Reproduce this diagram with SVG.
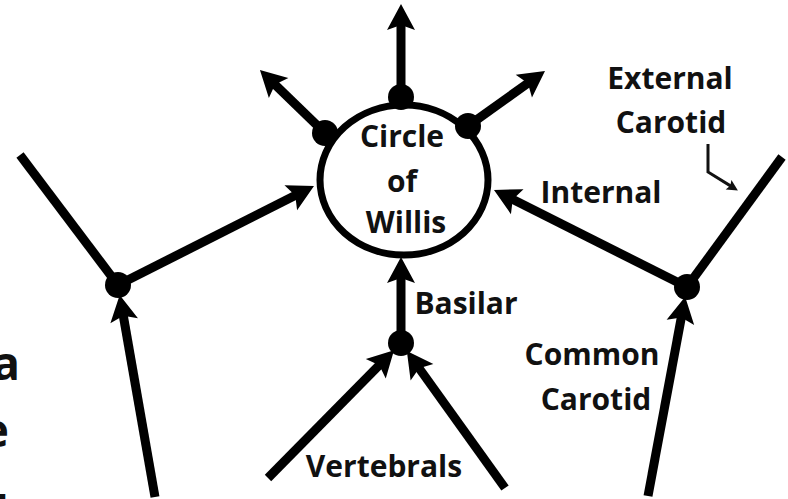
<svg xmlns="http://www.w3.org/2000/svg" width="788" height="499" viewBox="0 0 788 499">
<style>
  .lbl { font-family: "Open Sans", "Liberation Sans", sans-serif; font-weight: bold; font-size: 30px; fill: #111; text-anchor: middle; }
  .big { font-family: "Open Sans", "Liberation Sans", sans-serif; font-weight: bold; font-size: 46px; fill: #111; text-anchor: end; }
  .ln { stroke: #000; stroke-width: 9; fill: none; }
  .thin { stroke: #111; stroke-width: 3; fill: none; }
  .dot { fill: #000; }
</style>
<defs>
  <marker id="ah" markerUnits="userSpaceOnUse" markerWidth="28" markerHeight="28" refX="12" refY="14" orient="auto" overflow="visible">
    <path d="M0,0 L26,14 L0,28 L5,14 Z" fill="#000"/>
  </marker>
  <marker id="ahs" markerUnits="userSpaceOnUse" markerWidth="12" markerHeight="12" refX="7" refY="5.5" orient="auto" overflow="visible">
    <path d="M0,0 L11,5.5 L0,11 L2,5.5 Z" fill="#111"/>
  </marker>
</defs>
<rect width="788" height="499" fill="#fff"/>

<g id="edge-text">
  <text class="big" x="20" y="380">a</text>
  <text class="big" x="9" y="447">e</text>
  <text class="big" x="7" y="520">t</text>
</g>

<g id="connectors">
  <line class="ln" x1="401" y1="97" x2="401" y2="18" marker-end="url(#ah)"/>
  <line class="ln" x1="325" y1="133" x2="270" y2="79.7" marker-end="url(#ah)"/>
  <line class="ln" x1="468" y1="126" x2="533.6" y2="79.1" marker-end="url(#ah)"/>
  <line class="ln" x1="20" y1="155" x2="118" y2="285"/>
  <line class="ln" x1="118" y1="285" x2="301.5" y2="192.3" marker-end="url(#ah)"/>
  <line class="ln" x1="155" y1="497" x2="122.1" y2="308.9" marker-end="url(#ah)"/>
  <line class="ln" x1="782" y1="157" x2="687" y2="287"/>
  <line class="ln" x1="687" y1="287" x2="506.5" y2="196.3" marker-end="url(#ah)"/>
  <line class="ln" x1="648" y1="496" x2="682.6" y2="310.6" marker-end="url(#ah)"/>
  <line class="ln" x1="401" y1="343" x2="401" y2="271" marker-end="url(#ah)"/>
  <line class="ln" x1="268" y1="478" x2="384.2" y2="360.2" marker-end="url(#ah)"/>
  <line class="ln" x1="505" y1="488" x2="415" y2="362.5" marker-end="url(#ah)"/>
  <polyline class="thin" points="708,144 708,172 734.5,188.4" marker-end="url(#ahs)"/>
</g>

<g id="circle-of-willis">
  <ellipse cx="404" cy="180" rx="84" ry="75" fill="#fff" stroke="#000" stroke-width="7"/>
  <text class="lbl" x="402" y="147">Circle</text>
  <text class="lbl" x="402" y="192">of</text>
  <text class="lbl" x="406" y="233">Willis</text>
</g>

<g id="junction-top"><circle class="dot" cx="401" cy="97" r="13"/></g>
<g id="junction-upper-left"><circle class="dot" cx="325" cy="133" r="13"/></g>
<g id="junction-upper-right"><circle class="dot" cx="468" cy="126" r="13"/></g>
<g id="junction-left"><circle class="dot" cx="118" cy="285" r="13"/></g>
<g id="junction-right"><circle class="dot" cx="687" cy="287" r="13"/></g>
<g id="junction-basilar"><circle class="dot" cx="401" cy="343" r="13"/></g>

<g id="labels">
  <text class="lbl" x="670" y="89">External</text>
  <text class="lbl" x="671" y="133">Carotid</text>
  <text class="lbl" x="601" y="203">Internal</text>
  <text class="lbl" x="466" y="314">Basilar</text>
  <text class="lbl" x="592" y="365">Common</text>
  <text class="lbl" x="596" y="410">Carotid</text>
  <text class="lbl" x="384" y="477">Vertebrals</text>
</g>
</svg>
